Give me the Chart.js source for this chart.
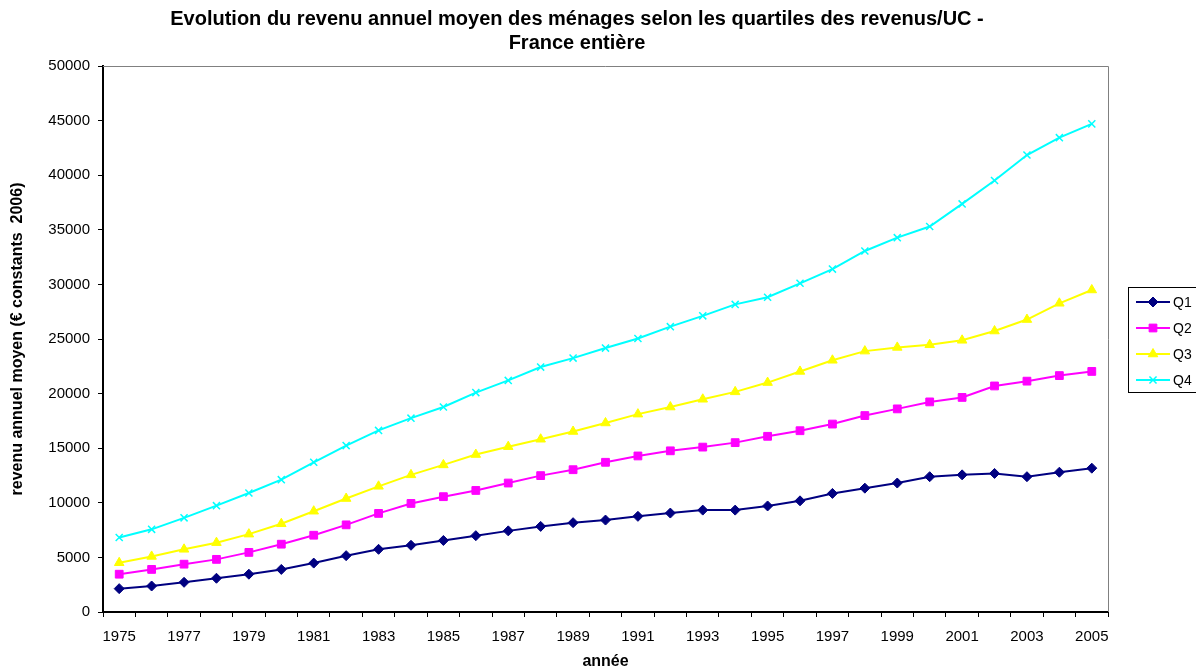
<!DOCTYPE html>
<html>
<head>
<meta charset="utf-8">
<script src="https://cdn.jsdelivr.net/npm/chart.js@4/dist/chart.umd.min.js"></script>
<style>
  html, body { margin: 0; padding: 0; background: #fff; }
  #wrap { width: 1196px; height: 672px; position: relative; }
</style>
</head>
<body>
<div id="wrap"><canvas id="revenus-chart"></canvas></div>
<script>
// data
const years = ["1975","1976","1977","1978","1979","1980","1981","1982","1983","1984","1985",
  "1986","1987","1988","1989","1990","1991","1992","1993","1994","1995",
  "1996","1997","1998","1999","2000","2001","2002","2003","2004","2005"];
const q1 = [2140, 2380, 2720, 3090, 3460, 3900, 4480, 5160, 5740, 6110, 6550,
  6990, 7430, 7840, 8180, 8420, 8760, 9060, 9330, 9330, 9710,
  10180, 10860, 11340, 11810, 12390, 12560, 12690, 12390, 12800, 13170];
const q2 = [3460, 3900, 4380, 4820, 5460, 6210, 7030, 7980, 9030, 9940, 10560,
  11130, 11810, 12490, 13030, 13710, 14290, 14760, 15100, 15510, 16090,
  16600, 17210, 17990, 18600, 19240, 19650, 20700, 21140, 21650, 22030];
const q3 = [4510, 5090, 5740, 6350, 7130, 8080, 9230, 10390, 11510, 12560, 13470,
  14420, 15140, 15820, 16530, 17310, 18120, 18770, 19480, 20160, 21010,
  22030, 23050, 23890, 24230, 24470, 24880, 25730, 26780, 28270, 29490];
const q4 = [6820, 7570, 8620, 9740, 10900, 12120, 13710, 15240, 16630, 17750, 18770,
  20090, 21210, 22430, 23250, 24170, 25050, 26130, 27120, 28170, 28820,
  30100, 31400, 33060, 34280, 35300, 37370, 39510, 41850, 43440, 44700];

const seriesNames = ["Q1", "Q2", "Q3", "Q4"];
const titleLines = ["Evolution du revenu annuel moyen des ménages selon les quartiles des revenus/UC -",
  "France entière"];

const FONT = "'Liberation Sans', Arial, sans-serif";

// title, plot frame and boxed legend drawn like the Excel original
const excelFrame = {
  id: "excelFrame",
  afterDraw(chart) {
    const ctx = chart.ctx;
    const a = chart.chartArea;
    ctx.save();
    // grey frame on top and right of plot area
    ctx.strokeStyle = "#808080";
    ctx.lineWidth = 1;
    ctx.beginPath();
    ctx.moveTo(a.left, a.top + 0.5);
    ctx.lineTo(a.right + 0.5, a.top + 0.5);
    ctx.lineTo(a.right + 0.5, a.bottom);
    ctx.stroke();

    // title
    ctx.fillStyle = "#000";
    ctx.font = "bold 20px " + FONT;
    ctx.textAlign = "center";
    ctx.textBaseline = "middle";
    ctx.fillText(titleLines[0], 577, 19);
    ctx.fillText(titleLines[1], 577, 43);

    // legend
    ctx.strokeStyle = "#000";
    ctx.lineWidth = 1;
    ctx.strokeRect(1128.5, 287.5, 90, 105);
    ctx.font = "14px " + FONT;
    ctx.textAlign = "left";
    chart.data.datasets.forEach((ds, i) => {
      const y = 302 + i * 26;
      ctx.strokeStyle = ds.borderColor;
      ctx.lineWidth = 2;
      ctx.beginPath();
      ctx.moveTo(1136, y);
      ctx.lineTo(1170, y);
      ctx.stroke();
      ctx.fillStyle = ds.pointBackgroundColor;
      ctx.strokeStyle = ds.pointBorderColor;
      ctx.lineWidth = ds.pointBorderWidth;
      Chart.helpers.drawPoint(ctx, {
        pointStyle: ds.pointStyle, radius: ds.pointRadius, rotation: 0, borderWidth: ds.pointBorderWidth
      }, 1153, y);
      ctx.fillStyle = "#000";
      ctx.fillText(ds.label, 1173, y + 1);
    });
    ctx.restore();
  }
};

const ctx = document.getElementById("revenus-chart");

const revenusChart = new Chart(ctx, {
  type: "line",
  data: {
    labels: years,
    datasets: [
      {
        label: seriesNames[0], data: q1,
        borderColor: "#000080", backgroundColor: "#000080",
        pointStyle: "rectRot", pointRadius: 5,
        pointBackgroundColor: "#000080", pointBorderColor: "#000080", pointBorderWidth: 1
      },
      {
        label: seriesNames[1], data: q2,
        borderColor: "#FF00FF", backgroundColor: "#FF00FF",
        pointStyle: "rect", pointRadius: 5.5,
        pointBackgroundColor: "#FF00FF", pointBorderColor: "#FF00FF", pointBorderWidth: 1
      },
      {
        label: seriesNames[2], data: q3,
        borderColor: "#FFFF00", backgroundColor: "#FFFF00",
        pointStyle: "triangle", pointRadius: 5.5,
        pointBackgroundColor: "#FFFF00", pointBorderColor: "#FFFF00", pointBorderWidth: 1
      },
      {
        label: seriesNames[3], data: q4,
        borderColor: "#00FFFF", backgroundColor: "#00FFFF",
        pointStyle: "crossRot", pointRadius: 5,
        pointBackgroundColor: "#00FFFF", pointBorderColor: "#00FFFF", pointBorderWidth: 1.5
      }
    ].map(ds => Object.assign(ds, { borderWidth: 2, tension: 0, fill: false }))
  },
  options: {
    responsive: true,
    maintainAspectRatio: false,
    animation: false,
    events: [],
    layout: { padding: { top: 66, right: 88, left: 0, bottom: 0 } },
    plugins: {
      legend: { display: false },
      title: { display: false },
      tooltip: { enabled: false }
    },
    scales: {
      x: {
        type: "category",
        offset: true,
        afterFit: s => { s.height = 60; },
        border: { color: "#000", width: 2 },
        grid: { offset: true, drawOnChartArea: false, drawTicks: true, tickLength: 5, color: "#000" },
        ticks: {
          autoSkip: false, maxRotation: 0, padding: 11,
          color: "#000", font: { family: FONT, size: 15 },
          callback: function (v, i) { return i % 2 === 0 ? this.getLabelForValue(v) : ""; }
        },
        title: {
          display: true, text: "année", color: "#000",
          font: { family: FONT, size: 16, weight: "bold" },
          padding: { top: 0, bottom: 1 }
        }
      },
      y: {
        min: 0, max: 50000,
        afterFit: s => { s.width = 103; },
        border: { color: "#000", width: 2 },
        grid: { drawOnChartArea: false, drawTicks: true, tickLength: 5, color: "#000" },
        ticks: {
          stepSize: 5000, padding: 8, color: "#000",
          font: { family: FONT, size: 15 },
          callback: v => String(v)
        },
        title: {
          display: true, text: "revenu annuel moyen (€ constants  2006)", color: "#000",
          font: { family: FONT, size: 16, weight: "bold" },
          padding: { top: 8, bottom: 0 }
        }
      }
    }
  },
  plugins: [excelFrame]
});
</script>
</body>
</html>
